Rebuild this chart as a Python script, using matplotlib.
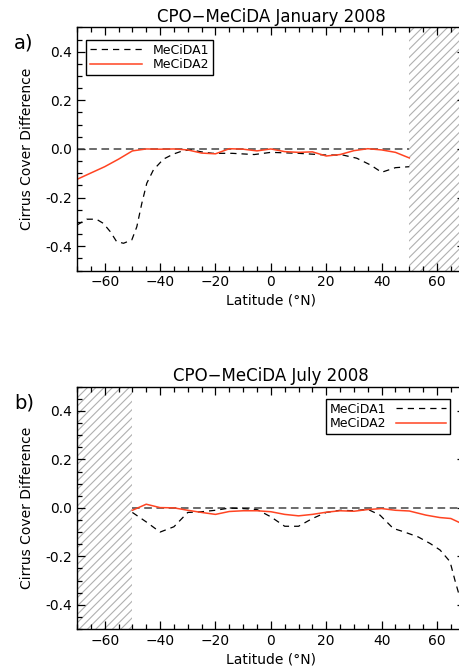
import numpy as np
import matplotlib
matplotlib.use('Agg')
import matplotlib.pyplot as plt
from matplotlib.ticker import MultipleLocator

plt.rcParams['font.family'] = 'DejaVu Sans'
plt.rcParams['hatch.color'] = '#b0b0b0'
plt.rcParams['hatch.linewidth'] = 0.8

RED = '#ff4422'

# January 2008
jan_lat1 = [-70, -66.5, -63, -60.5, -58, -55.7, -53.2, -50.2, -48.4, -46.6, -44.8, -42.4,
            -38.8, -35.2, -31.6, -28.6, -25, -21, -14, -6, 0, 10, 20, 26, 31, 36, 40, 45, 50]
jan_m1 = [-0.313, -0.289, -0.289, -0.306, -0.34, -0.381, -0.388, -0.374, -0.32, -0.224, -0.141,
          -0.086, -0.042, -0.021, -0.007, -0.004, -0.012, -0.018, -0.018, -0.023, -0.014, -0.018,
          -0.025, -0.025, -0.038, -0.066, -0.096, -0.077, -0.073]
jan_lat2 = [-70, -60, -55, -50, -45, -40, -35, -30, -25, -20, -15, -10, -5, 0, 5, 10, 15,
            20, 25, 30, 35, 40, 45, 50]
jan_m2 = [-0.125, -0.073, -0.042, -0.008, 0.0, -0.001, 0.0, -0.004, -0.017, -0.02, 0.001,
          -0.001, -0.008, 0.0, -0.011, -0.014, -0.012, -0.029, -0.023, -0.007, 0.001, -0.004,
          -0.014, -0.037]

# July 2008
jul_lat1 = [-50, -45, -40, -35, -30, -25, -20, -15, -10, -5, 0, 5, 10, 15, 20, 25, 30, 35,
            39.4, 44.2, 47.8, 53.2, 57.5, 61.1, 64.7, 66.5, 68, 70]
jul_m1 = [-0.019, -0.058, -0.10, -0.078, -0.019, -0.016, -0.01, -0.001, -0.003, -0.007,
          -0.037, -0.076, -0.076, -0.044, -0.019, -0.01, -0.012, -0.006, -0.03, -0.085,
          -0.098, -0.12, -0.147, -0.174, -0.222, -0.30, -0.36, -0.45]
jul_lat2 = [-50, -45, -40, -35, -30, -25, -20, -15, -10, -5, 0, 5, 10, 15, 20, 25, 30, 35,
            40, 45, 50, 56, 61, 65, 68, 70]
jul_m2 = [-0.01, 0.015, 0.001, 0.0, -0.01, -0.019, -0.027, -0.015, -0.012, -0.012, -0.016,
          -0.027, -0.033, -0.027, -0.018, -0.012, -0.014, -0.007, -0.003, -0.01, -0.013,
          -0.03, -0.04, -0.044, -0.06, -0.07]

panels = [
    dict(title='CPO\u2212MeCiDA January 2008', tag='a)', lat1=jan_lat1, m1=jan_m1,
         lat2=jan_lat2, m2=jan_m2, hatch=(50, 70), zero=(-70, 50)),
    dict(title='CPO\u2212MeCiDA July 2008', tag='b)', lat1=jul_lat1, m1=jul_m1,
         lat2=jul_lat2, m2=jul_m2, hatch=(-70, -50), zero=(-50, 70)),
]

fig = plt.figure(figsize=(4.59, 6.68), dpi=100)
W, H = 459.0, 668.0
boxes = [(77, 27.4, 464.7, 270.5), (77, 386.7, 464.7, 629)]

for i, (p, b) in enumerate(zip(panels, boxes)):
    ax = fig.add_axes([b[0] / W, 1 - b[3] / H, (b[2] - b[0]) / W, (b[3] - b[1]) / H])
    ax.axvspan(p['hatch'][0], p['hatch'][1], facecolor='none', edgecolor='#b0b0b0',
               hatch='////', linewidth=0, zorder=0)
    ax.hlines(0, p['zero'][0], p['zero'][1], colors='#444444', linestyles=(0, (5, 3)), lw=1.1)
    l1, = ax.plot(p['lat1'], p['m1'], color='black', lw=0.9, ls=(0, (5, 4)), label='MeCiDA1')
    l2, = ax.plot(p['lat2'], p['m2'], color=RED, lw=1.1, label='MeCiDA2')
    ax.set_xlim(-70, 70)
    ax.set_ylim(-0.5, 0.5)
    ax.xaxis.set_major_locator(MultipleLocator(20))
    ax.xaxis.set_minor_locator(MultipleLocator(5))
    ax.yaxis.set_major_locator(MultipleLocator(0.2))
    ax.yaxis.set_minor_locator(MultipleLocator(0.05))
    ax.yaxis.set_major_formatter(plt.FormatStrFormatter('%.1f'))
    ax.tick_params(which='both', direction='in', top=True, right=True, labelsize=10)
    ax.tick_params(which='major', length=6, width=0.9)
    ax.tick_params(which='minor', length=3.5, width=0.9)
    for s in ax.spines.values():
        s.set_linewidth(1.0)
    ax.set_title(p['title'], fontsize=12, pad=4, x=(271 - 77) / (464.7 - 77))
    ax.set_xlabel('Latitude (\u00b0N)', fontsize=10, labelpad=3)
    ax.set_ylabel('Cirrus Cover Difference', fontsize=10, labelpad=8)
    fig.text(24 / W, 1 - (b[1] + 16) / H, p['tag'], fontsize=14, ha='center', va='center')
    if i == 0:
        leg = ax.legend(handles=[l1, l2], loc='upper left', bbox_to_anchor=(86 / W, 1 - 40 / H),
                        bbox_transform=fig.transFigure, fontsize=9, handlelength=4.2,
                        borderpad=0.3, labelspacing=0.1, handletextpad=0.8, borderaxespad=0,
                        fancybox=False, framealpha=1)
    else:
        leg = ax.legend(handles=[l1, l2], loc='upper left', bbox_to_anchor=(326 / W, 1 - 399 / H),
                        bbox_transform=fig.transFigure, fontsize=9, handlelength=4.0,
                        borderpad=0.3, labelspacing=0.1, handletextpad=0.8, borderaxespad=0,
                        fancybox=False, framealpha=1, markerfirst=False)
    leg.get_frame().set_edgecolor('black')
    leg.get_frame().set_linewidth(1.0)

fig.savefig('out.png', dpi=100)
